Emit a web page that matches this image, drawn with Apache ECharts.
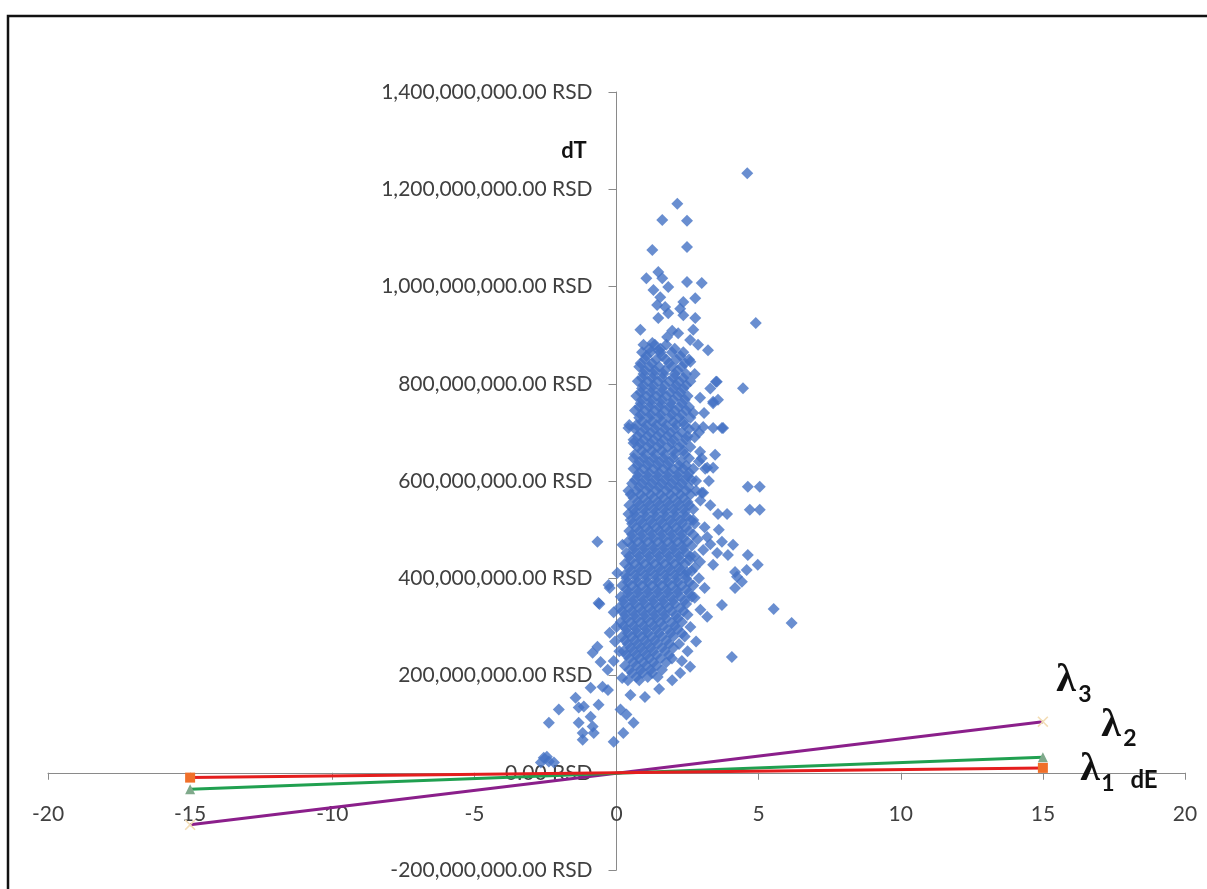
<!DOCTYPE html>
<html>
<head>
<meta charset="utf-8">
<script src="https://cdn.jsdelivr.net/npm/echarts@6/dist/echarts.min.js"></script>
<style>
html,body{margin:0;padding:0;background:#fff;}
#chart{width:1207px;height:889px;}
</style>
</head>
<body>
<div id="chart"></div>
<script>
// ---- Data (dE on x; dT in millions of RSD on y) ----
const xTicks = [-20, -15, -10, -5, 0, 5, 10, 15, 20];
const yTicksM = [-200, 0, 200, 400, 600, 800, 1000, 1200, 1400];

const upperSparse = [
[4.6,1233],[2.14,1170],[1.61,1137],[2.48,1135],[1.26,1075],[2.48,1081],[1.05,1017],[1.47,1030],[1.61,1017],[2.48,1009],[3.0,1007],[1.82,999],[1.3,993],[1.54,978],[2.77,976],[2.35,968],[1.43,962],[1.71,958],[2.24,954],[1.82,945],[2.35,941],[1.47,935],[2.77,935],[4.9,925],[0.84,911],[1.96,909],[2.7,911],[1.78,896],[2.17,904],[2.59,890],[2.87,880],[3.22,869],[1.26,884],[1.47,869],[3.5,804],[4.45,791]
];
const rightSparse = [
[3.53,804],[2.94,771],[3.4,763],[3.57,767],[3.08,740],[2.77,711],[3.05,711],[3.4,709],[3.75,709],[2.94,660],[3.47,654],[3.0,647],[3.19,627],[3.4,627],[4.62,588],[5.04,588],[3.0,576],[3.57,532],[3.89,532],[4.69,541],[5.04,541],[3.4,760],[3.71,709],[3.12,625],[3.05,576],[3.19,485],[3.71,475],[4.1,469],[3.05,458],[3.54,452],[3.92,448],[4.62,448],[4.97,428],[4.58,417],[4.17,413],[2.94,434],[3.4,428],[2.48,413],[4.24,403],[4.41,393],[4.17,380],[3.71,345],[5.53,337],[6.16,308],[3.19,321],[4.06,238],[2.59,218],[2.24,205],[1.96,190],[1.5,172],[1.0,156],[2.75,690],[2.9,640],[2.8,600],[2.95,560],[2.7,520],[2.85,480],[3.1,505],[2.75,445],[2.9,400],[3.1,380],[2.75,360],[2.95,335],[2.6,300],[2.8,270],[2.5,250],[2.3,230],[3.3,790],[2.7,740],[2.9,700],[3.25,600],[3.3,550],[3.6,500],[3.3,470],[2.75,820],[2.6,845]
];
const leftSparse = [
[0.42,709],[0.45,715],[0.6,678],[0.42,580],[0.42,532],[-0.67,475],[0.21,469],[0.03,411],[-0.28,386],[-0.24,380],[-0.6,347],[-0.63,349],[-0.24,288],[-0.67,259],[-0.84,247],[-0.56,228],[-0.31,212],[-0.91,175],[-0.49,177],[-1.44,154],[-1.15,136],[-0.63,140],[-2.03,130],[-1.33,134],[-0.91,115],[-2.38,103],[-1.33,103],[-0.84,95],[-1.19,82],[-0.8,82],[-1.19,68],[-0.1,64],[0.14,130],[0.24,82],[0.6,103],[0.49,160],[0.2,195],[-0.1,230],[0.0,300],[-0.1,330],[-0.05,270],[0.1,250],[-0.3,170],[0.35,120]
];
const originCluster = [[-2.56,31],[-2.38,23],[-2.2,21],[-2.66,21],[-2.45,33]];

// dense core, listed row by row: [dT (M RSD), [dE values]]
const coreRows = [
[880,[0.95,1.35,1.75]],
[872,[1.15,1.55,2.05]],
[865,[0.9,1.2,1.55,1.95,2.35]],
[857,[1.05,1.6,2.25]],
[850,[1.0,1.4,1.75,2.1,2.55]],
[842,[0.85,1.25,1.85,2.4]],
[835,[0.8,1.15,1.5,1.95,2.3]],
[827,[1.0,1.35,1.7,2.15]],
[820,[0.95,1.3,1.65,2.05,2.45]],
[812,[0.9,1.25,1.6,2.0,2.35]],
[805,[0.75,1.1,1.45,1.85,2.2,2.6]],
[797,[0.95,1.3,1.7,2.1,2.45]],
[790,[0.9,1.25,1.6,2.0,2.35]],
[782,[0.85,1.2,1.55,1.9,2.25]],
[775,[0.7,1.05,1.4,1.75,2.15,2.5]],
[767,[0.9,1.25,1.6,2.0,2.4]],
[760,[0.85,1.2,1.55,1.9,2.3]],
[752,[0.8,1.15,1.5,1.85,2.2,2.55]],
[745,[0.65,1.0,1.35,1.7,2.05,2.45]],
[737,[0.85,1.2,1.55,1.95,2.3]],
[730,[0.8,1.15,1.5,1.85,2.2,2.6]],
[722,[0.9,1.25,1.6,2.0,2.35]],
[715,[0.7,1.05,1.4,1.75,2.1,2.4]],
[707,[0.65,1.0,1.35,1.7,2.05,2.55]],
[700,[0.85,1.2,1.55,1.9,2.3]],
[692,[0.75,1.1,1.45,1.8,2.15,2.5]],
[685,[0.6,0.95,1.3,1.65,2.0,2.45]],
[677,[0.85,1.2,1.55,1.95,2.3]],
[670,[0.75,1.1,1.45,1.8,2.2,2.6]],
[662,[0.9,1.25,1.6,2.0,2.35]],
[655,[0.65,1.0,1.35,1.7,2.05,2.4]],
[647,[0.6,0.95,1.3,1.65,2.0,2.55]],
[640,[0.8,1.15,1.5,1.85,2.25]],
[632,[0.75,1.1,1.45,1.8,2.2,2.45]],
[625,[0.6,0.95,1.3,1.65,2.0,2.35,2.7]],
[617,[0.8,1.15,1.5,1.85,2.2,2.55]],
[610,[0.75,1.1,1.45,1.8,2.15,2.5]],
[602,[0.65,1.0,1.35,1.7,2.05,2.4,2.65]],
[595,[0.55,0.9,1.25,1.6,1.95,2.3]],
[587,[0.8,1.15,1.5,1.85,2.2,2.55]],
[580,[0.7,1.05,1.4,1.75,2.1,2.45,2.8]],
[572,[0.5,0.85,1.2,1.55,1.9,2.25,2.6]],
[565,[0.6,0.95,1.3,1.65,2.0,2.35]],
[557,[0.75,1.1,1.45,1.8,2.15,2.5]],
[550,[0.45,0.8,1.15,1.5,1.85,2.2,2.55]],
[542,[0.6,0.95,1.3,1.65,2.0,2.35,2.7]],
[535,[0.65,1.0,1.35,1.7,2.05,2.4]],
[527,[0.7,1.05,1.4,1.75,2.1,2.45]],
[520,[0.5,0.85,1.2,1.55,1.9,2.25,2.6]],
[512,[0.55,0.9,1.25,1.6,1.95,2.3,2.75]],
[505,[0.7,1.05,1.4,1.75,2.1,2.45]],
[497,[0.45,0.8,1.15,1.5,1.85,2.2,2.55]],
[490,[0.55,0.9,1.25,1.6,1.95,2.3,2.7]],
[482,[0.6,0.95,1.3,1.65,2.0,2.35]],
[475,[0.4,0.75,1.1,1.45,1.8,2.15,2.5]],
[467,[0.55,0.9,1.25,1.6,1.95,2.3,2.65]],
[460,[0.6,0.95,1.3,1.65,2.0,2.35]],
[452,[0.35,0.7,1.05,1.4,1.75,2.1,2.45]],
[445,[0.45,0.8,1.15,1.5,1.85,2.2,2.6]],
[437,[0.5,0.85,1.2,1.55,1.9,2.25,2.55]],
[430,[0.3,0.65,1.0,1.35,1.7,2.05,2.4]],
[422,[0.45,0.8,1.15,1.5,1.85,2.2,2.75]],
[415,[0.5,0.85,1.2,1.55,1.9,2.25,2.65]],
[407,[0.3,0.65,1.0,1.35,1.7,2.05,2.4]],
[400,[0.35,0.7,1.05,1.4,1.75,2.1,2.45]],
[392,[0.4,0.75,1.1,1.45,1.8,2.15,2.55]],
[385,[0.2,0.55,0.9,1.25,1.6,1.95,2.3,2.7]],
[377,[0.35,0.7,1.05,1.4,1.75,2.1,2.45]],
[370,[0.4,0.75,1.1,1.45,1.8,2.15,2.55]],
[362,[0.15,0.5,0.85,1.2,1.55,1.9,2.25,2.65]],
[355,[0.25,0.6,0.95,1.3,1.65,2.0,2.4]],
[347,[0.3,0.65,1.0,1.35,1.7,2.05,2.45]],
[340,[0.1,0.45,0.8,1.15,1.5,1.85,2.25]],
[332,[0.2,0.55,0.9,1.25,1.6,1.95,2.35]],
[325,[0.3,0.65,1.0,1.35,1.7,2.1,2.5]],
[317,[0.35,0.7,1.05,1.4,1.75,2.15]],
[310,[0.15,0.5,0.85,1.2,1.55,1.95,2.3]],
[302,[0.25,0.6,0.95,1.3,1.65,2.05]],
[295,[0.35,0.7,1.05,1.4,1.8,2.15]],
[287,[0.4,0.75,1.1,1.5,1.9,2.3]],
[280,[0.2,0.55,0.9,1.25,1.6,2.0,2.4]],
[272,[0.3,0.65,1.0,1.35,1.75]],
[265,[0.4,0.75,1.1,1.45,1.85,2.2]],
[257,[0.5,0.85,1.2,1.6,2.0]],
[250,[0.25,0.6,0.95,1.3,1.7]],
[242,[0.35,0.7,1.05,1.4,1.85]],
[235,[0.45,0.8,1.15,1.55,1.95]],
[227,[0.6,0.95,1.3,1.75]],
[220,[0.3,0.7,1.05,1.4]],
[212,[0.45,0.85,1.2,1.6]],
[205,[0.55,0.9,1.25]],
[197,[0.7,1.1,1.45]],
[190,[0.4,0.8]]
];

// lambda lines: endpoints [dE, dT (M RSD)]
const lambda1 = [[-15,-10],[15,10]];
const lambda2 = [[-15,-34],[15,32]];
const lambda3 = [[-15,-107],[15,105]];

// ---- build ----
const M = 1e6;
const corePoints = [];
coreRows.forEach(([yv, xs]) => xs.forEach(xv => corePoints.push([xv, yv])));
const scatterData = [].concat(upperSparse, rightSparse, leftSparse, originCluster, corePoints)
  .map(p => [p[0], p[1] * M]);
const toRSD = arr => arr.map(p => [p[0], p[1] * M]);

function fmtRSD(v){
  const neg = v < 0;
  let s = Math.round(Math.abs(v)).toString();
  s = s.replace(/\B(?=(\d{3})+(?!\d))/g, ',');
  return (neg ? '-' : '') + s + '.00 RSD';
}

const FONT = 'Lato, "Open Sans", sans-serif';
const GL = 48, GR = 22, GT = 92, GB = 19;
const W = 1207, H = 889;
const plotW = W - GL - GR, plotH = H - GT - GB;
// place axis lines at the zero of the other axis
const yAxisOffset = -plotW * (0 - xTicks[0]) / (xTicks[xTicks.length-1] - xTicks[0]);
const xAxisOffset = -plotH * (0 - yTicksM[0]) / (yTicksM[yTicksM.length-1] - yTicksM[0]);

const chart = echarts.init(document.getElementById('chart'), null, {renderer:'canvas'});
chart.setOption({
  animation: false,
  backgroundColor: '#fff',
  grid: {left: GL, right: GR, top: GT, bottom: GB, containLabel: false, outerBoundsMode: 'none'},
  xAxis: {
    type: 'value', min: xTicks[0], max: xTicks[xTicks.length-1], interval: 5,
    position: 'bottom', offset: xAxisOffset,
    axisLine: {onZero: false, lineStyle: {color: '#8a8a8a', width: 1}},
    axisTick: {show: true, length: 7, lineStyle: {color: '#8a8a8a'}},
    axisLabel: {margin: 31, color: '#404040', fontSize: 21, fontFamily: FONT},
    splitLine: {show: false}
  },
  yAxis: {
    type: 'value', min: yTicksM[0]*M, max: yTicksM[yTicksM.length-1]*M, interval: 200*M,
    position: 'left', offset: yAxisOffset,
    axisLine: {onZero: false, lineStyle: {color: '#8a8a8a', width: 1}},
    axisTick: {show: true, length: 8, lineStyle: {color: '#8a8a8a'}},
    axisLabel: {margin: 24, color: '#404040', fontSize: 21, fontFamily: FONT, formatter: fmtRSD},
    splitLine: {show: false}
  },
  series: [
    {type: 'scatter', data: scatterData, symbol: 'diamond', symbolSize: 12,
     itemStyle: {color: '#4472C4'}, z: 2},
    {type: 'line', data: toRSD(lambda1), symbol: 'rect', symbolSize: 10, showAllSymbol: true,
     lineStyle: {color: '#E41E1E', width: 3}, itemStyle: {color: '#F0702A'}, z: 5},
    {type: 'line', data: toRSD(lambda2), symbol: 'triangle', symbolSize: 10,
     lineStyle: {color: '#20A050', width: 3}, itemStyle: {color: '#7FA98B'}, z: 4},
    {type: 'line', data: toRSD(lambda3), 
     symbol: 'path://M0,1L1,0L5,4L9,0L10,1L6,5L10,9L9,10L5,6L1,10L0,9L4,5Z', symbolSize: 11,
     lineStyle: {color: '#8B1F8B', width: 3}, itemStyle: {color: '#F3DDB5'}, z: 3}
  ],
  graphic: [
    {type: 'rect', shape: {x: 8, y: 16, width: 1300, height: 1000},
     style: {fill: 'none', stroke: '#111', lineWidth: 2.5}, z: 100},
    {type: 'text', x: 574, y: 151, style: {text: 'dT', font: 'bold 22px ' + FONT, fill: '#111', align: 'center', verticalAlign: 'middle'}, z: 100},
    {type: 'text', x: 1066, y: 681, style: {text: 'λ', font: 'bold 40px "Liberation Serif", serif', fill: '#111', align: 'center', verticalAlign: 'middle'}, z: 100},
    {type: 'text', x: 1085, y: 695, style: {text: '3', font: 'bold 23px ' + FONT, fill: '#111', align: 'center', verticalAlign: 'middle'}, z: 100},
    {type: 'text', x: 1111, y: 726, style: {text: 'λ', font: 'bold 40px "Liberation Serif", serif', fill: '#111', align: 'center', verticalAlign: 'middle'}, z: 100},
    {type: 'text', x: 1130, y: 739, style: {text: '2', font: 'bold 23px ' + FONT, fill: '#111', align: 'center', verticalAlign: 'middle'}, z: 100},
    {type: 'text', x: 1090, y: 770, style: {text: 'λ', font: 'bold 40px "Liberation Serif", serif', fill: '#111', align: 'center', verticalAlign: 'middle'}, z: 100},
    {type: 'text', x: 1108, y: 784, style: {text: '1', font: 'bold 23px ' + FONT, fill: '#111', align: 'center', verticalAlign: 'middle'}, z: 100},
    {type: 'text', x: 1144, y: 780, style: {text: 'dE', font: 'bold 24px ' + FONT, fill: '#111', align: 'center', verticalAlign: 'middle'}, z: 100}
  ]
});
</script>
</body>
</html>
